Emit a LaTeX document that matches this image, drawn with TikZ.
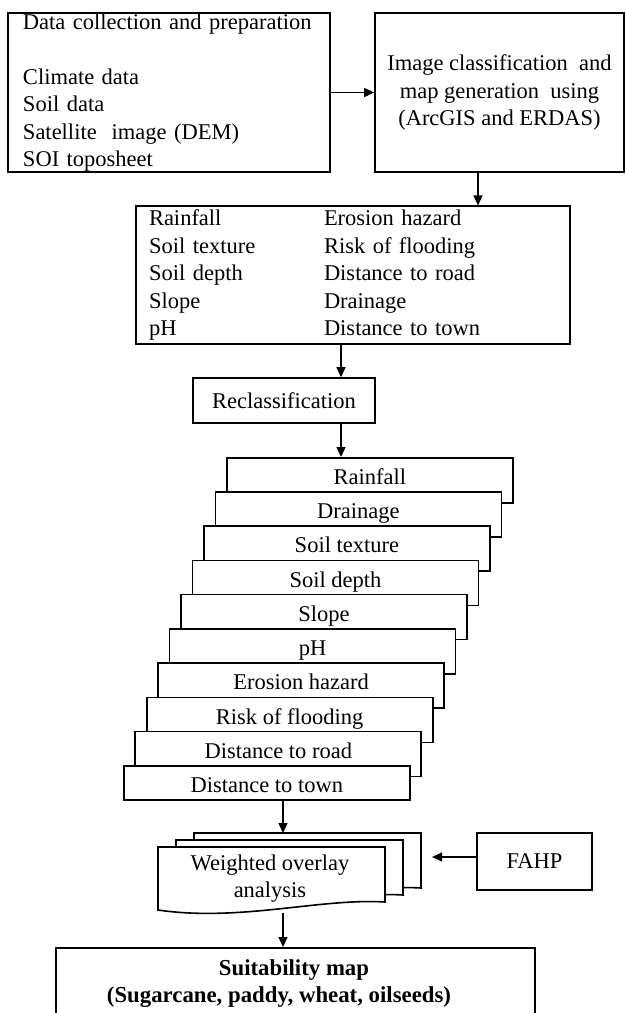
\documentclass[tikz,border=0pt]{standalone}
\usepackage{fontspec}
\setmainfont{Liberation Serif}
\usetikzlibrary{arrows.meta,calc}
\begin{document}
\begin{tikzpicture}[x=1pt,y=-1pt,
  every node/.style={font=\fontsize{22.5}{27.5}\selectfont, inner sep=0pt},
  box/.style={draw, line width=1.6pt, fill=white},
  docb/.style={draw, line width=1.6pt, fill=white},
  arr/.style={line width=1.3pt, -{Triangle[length=10pt,width=9pt]}}]
\clip (0,0) rectangle (625,1013);
\fill[white] (0,0) rectangle (625,1013);

% top row
\node[box, minimum width=322pt, minimum height=159pt, text width=292pt, align=left] (b1) at (169,92.5)
  {Data collection and preparation\\[27.5pt] Climate data\\ Soil data\\ Satellite~ image (DEM)\\ SOI toposheet};
\node[box, minimum width=249pt, minimum height=159pt, align=center] (b2) at (499.5,92.5)
  {Image classification~ and\\ map generation~ using\\ (ArcGIS and ERDAS)};
\draw[arr] (b1.east) -- (b2.west);

% parameter box
\node[box, minimum width=434pt, minimum height=136pt, text width=408pt, align=left] (b3) at (353,275)
  {\begin{tabular}{@{}p{175pt}@{}l@{}}
   Rainfall & Erosion hazard\\
   Soil texture & Risk of flooding\\
   Soil depth & Distance to road\\
   Slope & Drainage\\
   pH & Distance to town
   \end{tabular}};
\coordinate (xa) at (478,0);
\draw[arr] (b2.south -| xa) -- (b3.north -| xa);

% reclassification
\node[box, minimum width=182pt, minimum height=45pt] (rc) at (284,400.5) {Reclassification};
\coordinate (xb) at (341,0);
\draw[arr] (b3.south -| xb) -- (rc.north -| xb);

% stacked layers
\foreach \i/\t in {0/Rainfall,1/Drainage,2/Soil texture,3/Soil depth,4/Slope,5/pH,6/Erosion hazard,7/Risk of flooding,8/Distance to road,9/Distance to town}{
  \pgfmathsetmacro\L{226-11.44*\i}
  \pgfmathsetmacro\T{457+34.22*\i}
  \pgfmathsetmacro\H{ifthenelse(\i==9,34.5,45)}
  \node[box, minimum width=286pt, minimum height=\H pt, anchor=north west] (s\i) at (\L,\T) {};
  \node[anchor=base] (t\i) at ($(s\i.north)+(0,27.5)$) {\t};
}
\draw[arr] (rc.south -| xb) -- (s0.north -| xb);

% weighted overlay documents
\foreach \dx/\dy in {36/-14,18/-7,0/0}{
  \draw[docb, shift={(\dx,\dy)}] (158,847) -- (385,847) -- (385,902)
     .. controls (320,898) and (240,922) .. (158,910) -- cycle;
}
\node[align=center] (wo) at (270,878.5) {Weighted overlay\\analysis};
\coordinate (wtop) at (283,833);
\draw[arr] (s9.south -| wtop) -- (wtop);

% FAHP
\node[box, minimum width=115pt, minimum height=57pt] (fahp) at (534.5,861.5) {FAHP};
\coordinate (fa) at (432,857);
\draw[arr] (fahp.west |- fa) -- (fa);

% suitability map
\node[box, minimum width=479pt, minimum height=100pt, anchor=north west] (sm) at (55,947) {};
\node[align=center, font=\fontsize{22.8}{27.5}\selectfont\bfseries] (smt) at (294,983.5)
  {Suitability map\\\hspace*{-30pt}(Sugarcane, paddy, wheat, oilseeds)};
\coordinate (wbot) at (283,913);
\draw[arr] (wbot) -- (sm.north -| wbot);
\end{tikzpicture}
\end{document}
